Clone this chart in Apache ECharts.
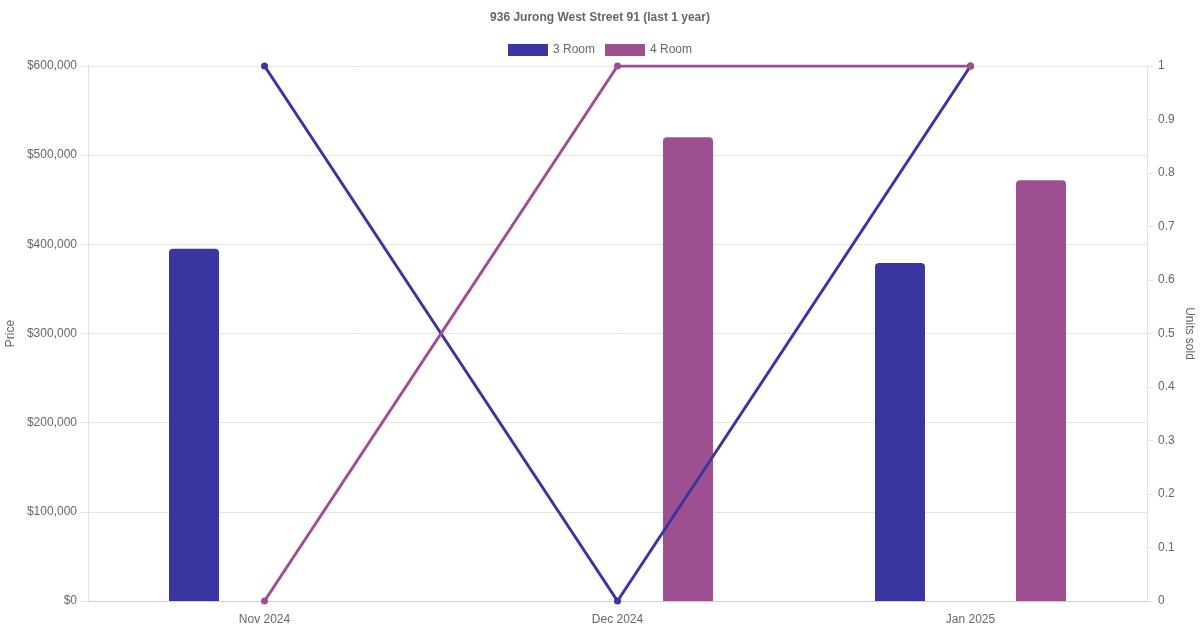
<!DOCTYPE html>
<html>
<head>
<meta charset="utf-8">
<script src="https://cdn.jsdelivr.net/npm/echarts@6/dist/echarts.min.js"></script>
<style>
html,body{margin:0;padding:0;background:#fff;}
#chart{width:1200px;height:630px;}
</style>
</head>
<body>
<div id="chart"></div>
<script>
var months = ['Nov 2024', 'Dec 2024', 'Jan 2025'];
var price3Room = [395000, null, 379000];
var price4Room = [null, 520000, 472000];
var units3Room = [1, 0, 1];
var units4Room = [0, 1, 1];

var color3 = '#3a35a0';
var color4 = '#9e4f92';
var font = "'Liberation Sans', Arial, sans-serif";

var myChart = echarts.init(document.getElementById('chart'));
var option = {
	animation: false,
	textStyle: { fontFamily: font },
	title: {
		text: '936 Jurong West Street 91 (last 1 year)',
		left: 'center',
		top: 7,
		textStyle: { fontSize: 12, fontWeight: 'bold', color: '#666', fontFamily: font }
	},
	legend: {
		top: 39,
		left: 'center',
		itemWidth: 40,
		itemHeight: 12,
		itemGap: 10,
		icon: 'rect',
		data: ['3 Room', '4 Room'],
		textStyle: { fontSize: 12, color: '#666', fontFamily: font }
	},
	grid: { left: 88, right: 53, top: 66, bottom: 29, containLabel: false, outerBoundsMode: 'none' },
	xAxis: {
		type: 'category',
		data: months,
		axisLine: { lineStyle: { color: '#cfcfcf' } },
		axisTick: { show: false },
		splitLine: { show: false },
		axisLabel: { color: '#666', fontSize: 12, margin: 13 }
	},
	yAxis: [{
		type: 'value',
		min: 0,
		max: 600000,
		interval: 100000,
		name: 'Price',
		nameLocation: 'middle',
		nameGap: 71,
		nameMoveOverlap: false,
		nameTextStyle: { color: '#666', fontSize: 12 },
		axisLine: { show: true, lineStyle: { color: '#e0e0e0' } },
		axisTick: { show: true, length: 8, lineStyle: { color: '#e5e5e5' } },
		splitLine: { lineStyle: { color: '#e5e5e5' } },
		axisLabel: {
			color: '#666',
			fontSize: 12,
			margin: 11,
			formatter: function (v) { return '$' + v.toLocaleString('en-US'); }
		}
	}, {
		type: 'value',
		min: 0,
		max: 1,
		interval: 0.1,
		position: 'right',
		name: 'Units sold',
		nameLocation: 'middle',
		nameRotate: -90,
		nameGap: 36,
		nameMoveOverlap: false,
		nameTextStyle: { color: '#666', fontSize: 12 },
		axisLine: { show: true, lineStyle: { color: '#e0e0e0' } },
		axisTick: { show: true, length: 6, lineStyle: { color: '#e5e5e5' } },
		splitLine: { show: false },
		axisLabel: {
			color: '#666',
			fontSize: 12,
			margin: 11,
			formatter: function (v) { return String(Math.round(v * 10) / 10); }
		}
	}],
	series: [{
		name: '3 Room',
		type: 'bar',
		yAxisIndex: 0,
		data: price3Room,
		barWidth: 50,
		barGap: '182%',
		itemStyle: { color: color3, borderRadius: [4, 4, 0, 0] }
	}, {
		name: '4 Room',
		type: 'bar',
		yAxisIndex: 0,
		data: price4Room,
		barWidth: 50,
		barGap: '182%',
		itemStyle: { color: color4, borderRadius: [4, 4, 0, 0] }
	}, {
		name: '3 Room',
		type: 'line',
		yAxisIndex: 1,
		data: units3Room,
		symbol: 'circle',
		symbolSize: 7,
		lineStyle: { color: color3, width: 3 },
		itemStyle: { color: color3 },
		z: 3
	}, {
		name: '4 Room',
		type: 'line',
		yAxisIndex: 1,
		data: units4Room,
		symbol: 'circle',
		symbolSize: 7,
		lineStyle: { color: color4, width: 3 },
		itemStyle: { color: color4 },
		z: 3
	}]
};
myChart.setOption(option);
</script>
</body>
</html>
